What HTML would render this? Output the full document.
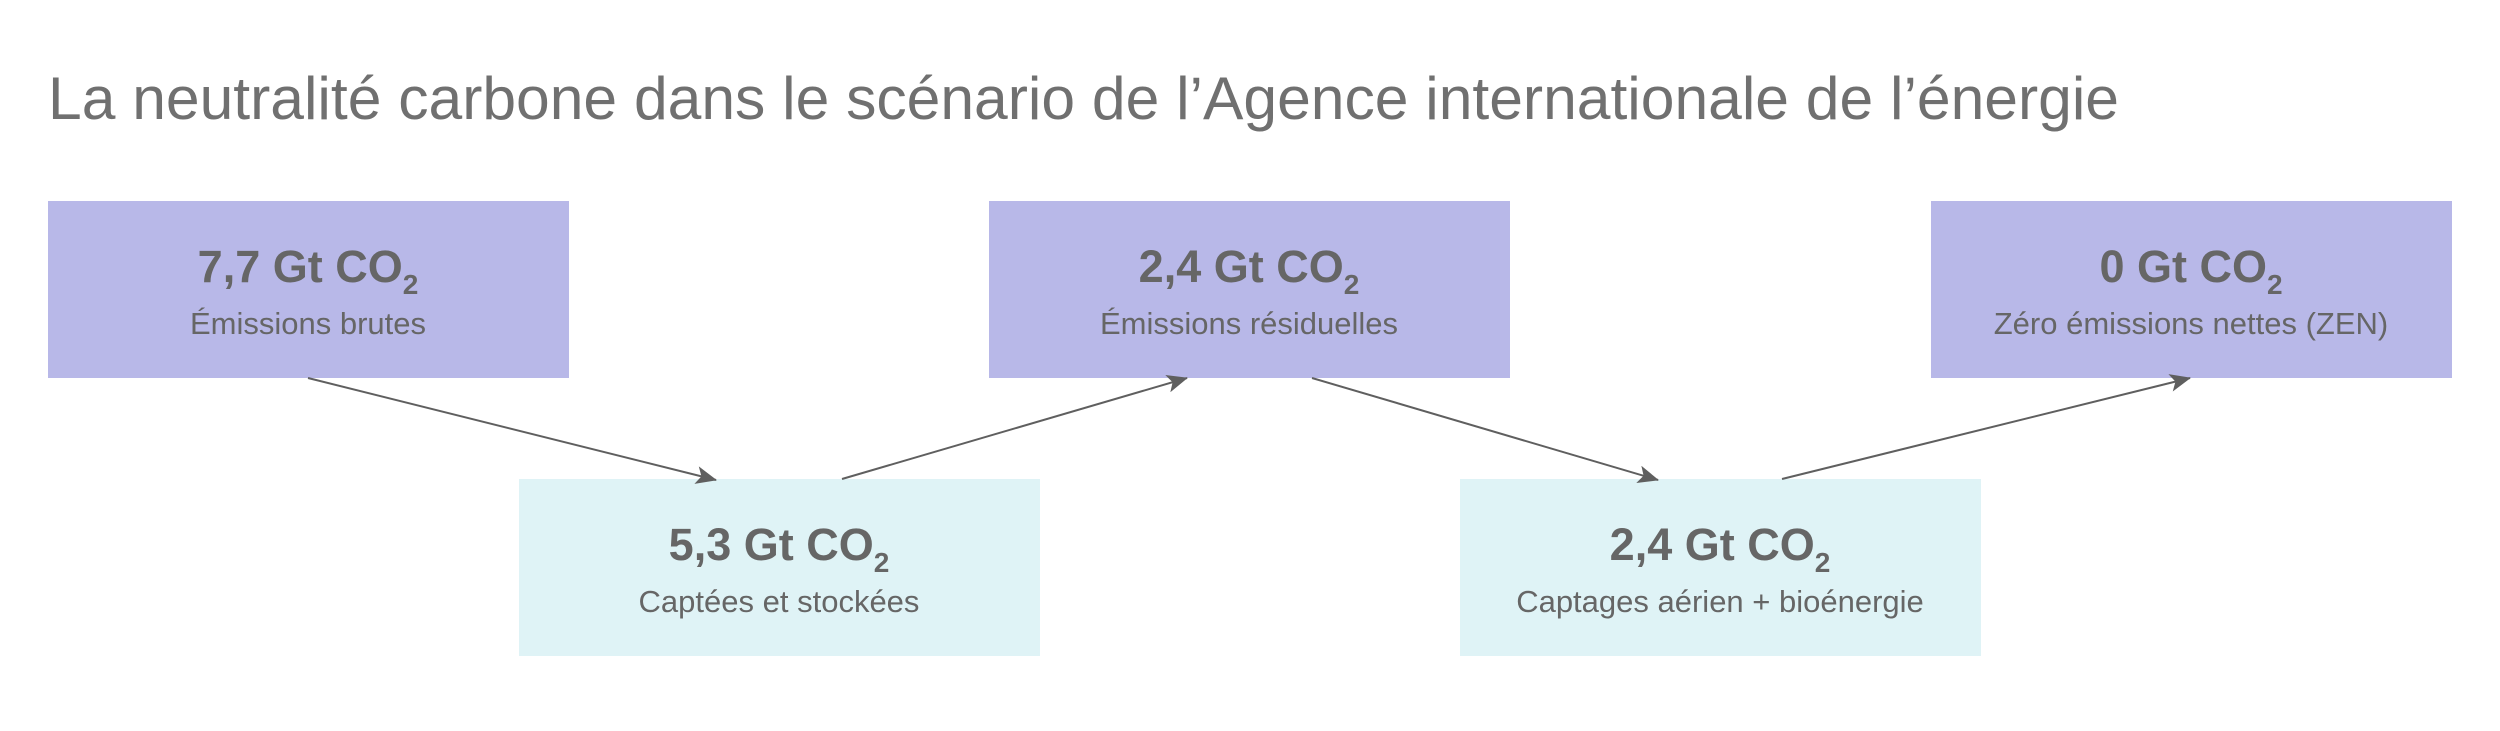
<!DOCTYPE html>
<html><head><meta charset="utf-8"><style>
html,body{margin:0;padding:0;background:#fff;}
svg{display:block;}
text{font-family:"Liberation Sans",sans-serif;fill:#666;}
</style></head><body>
<svg width="2500" height="731" viewBox="0 0 2500 731" xmlns="http://www.w3.org/2000/svg">
<defs>
<marker id="b" markerWidth="22" markerHeight="22" refX="20" refY="11" orient="auto" markerUnits="userSpaceOnUse"><path d="M0,2 L21,11 L0,20 L5,11 z" fill="#5f5f5f"/></marker></defs>
<text x="48" y="119" font-size="60" font-weight="300" textLength="2071" lengthAdjust="spacingAndGlyphs" style="fill:#707070">La neutralité carbone dans le scénario de l’Agence internationale de l’énergie</text>

<rect x="48" y="201" width="521" height="177" fill="#b8b8e8"/>
<rect x="989" y="201" width="521" height="177" fill="#b8b8e8"/>
<rect x="1931" y="201" width="521" height="177" fill="#b8b8e8"/>
<rect x="519" y="479" width="521" height="177" fill="#dff3f6"/>
<rect x="1460" y="479" width="521" height="177" fill="#dff3f6"/>

<g font-weight="bold" font-size="45" text-anchor="middle">
<text x="308" y="282">7,7 Gt CO<tspan font-size="28" dy="12">2</tspan></text>
<text x="1249" y="282">2,4 Gt CO<tspan font-size="28" dy="12">2</tspan></text>
<text x="2191" y="282">0 Gt CO<tspan font-size="28" dy="12">2</tspan></text>
<text x="779" y="560">5,3 Gt CO<tspan font-size="28" dy="12">2</tspan></text>
<text x="1720" y="560">2,4 Gt CO<tspan font-size="28" dy="12">2</tspan></text>
</g>
<g font-size="31" text-anchor="middle">
<text x="308" y="334">Émissions brutes</text>
<text x="1249" y="334">Émissions résiduelles</text>
<text x="2191" y="334">Zéro émissions nettes (ZEN)</text>
<text x="779" y="612">Captées et stockées</text>
<text x="1720" y="612">Captages aérien + bioénergie</text>
</g>
<g stroke="#5f5f5f" stroke-width="2" fill="none" marker-end="url(#b)">
<line x1="308" y1="378" x2="716" y2="480"/>
<line x1="842" y1="479" x2="1187" y2="378"/>
<line x1="1312" y1="378" x2="1658" y2="480"/>
<line x1="1782" y1="479" x2="2190" y2="378"/>
</g>
</svg>
</body></html>
